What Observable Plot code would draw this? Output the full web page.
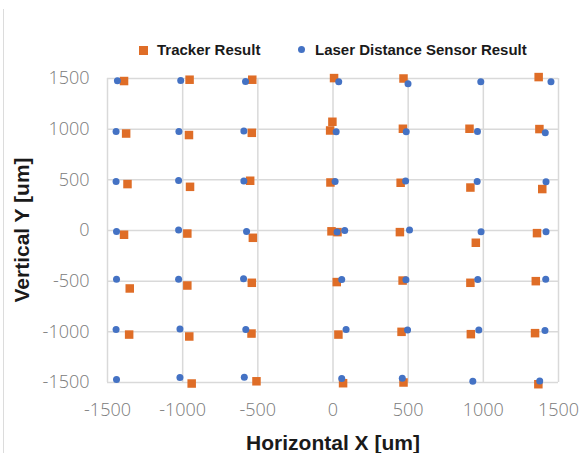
<!DOCTYPE html>
<html>
<head>
<meta charset="utf-8">
<script src="https://cdn.jsdelivr.net/npm/d3@7"></script>
<script src="https://cdn.jsdelivr.net/npm/@observablehq/plot@0.6"></script>
<style>
  html, body { margin: 0; padding: 0; background: #fff; }
  #chart { position: relative; width: 580px; height: 453px; overflow: hidden; }
  #chart svg { position: absolute; left: 0; top: 0; }
  .border { position: absolute; left: 3px; top: 9px; bottom: 0; width: 1px; background: #dcdcdc; }
  .legend { position: absolute; top: 40px; left: 0; width: 580px; font: bold 15px "Liberation Sans", Arial, sans-serif; color: #1a1a1a; }
  .legend .item { position: absolute; top: 0; white-space: nowrap; line-height: 20px; }
  .legend .sq { display: inline-block; width: 9px; height: 9px; vertical-align: middle; margin-right: 9px; position: relative; top: -1px; }
  .legend .ci { display: inline-block; width: 7px; height: 7px; border-radius: 50%; vertical-align: middle; margin-right: 10px; position: relative; top: -2px; }
  .title { position: absolute; font: bold 21px "Liberation Sans", Arial, sans-serif; color: #1a1a1a; white-space: nowrap; }
</style>
</head>
<body>
<div id="chart">
  <div class="border"></div>
</div>
<script>
// ---- Data ----
const trackerX = [-1390, -1376, -1367, -1390, -1352, -1356,
                  -954, -958, -951, -969, -969, -956, -940,
                  -537, -540, -551, -533, -540, -542, -509,
                  7, -4, -19, -17, -10, 30, 25, 36, 67,
                  469, 465, 450, 445, 463, 456, 469,
                  908, 914, 950, 914, 917,
                  1368, 1373, 1392, 1357, 1349, 1344, 1366];
const trackerY = [1475, 957, 458, -42, -572, -1027,
                  1488, 942, 431, -30, -543, -1046, -1510,
                  1488, 964, 491, -72, -516, -1017, -1488,
                  1504, 1073, 987, 474, -8, -16, -509, -1027, -1507,
                  1500, 1004, 471, -16, -494, -1000, -1500,
                  1004, 424, -121, -516, -1023,
                  1514, 1001, 409, -26, -500, -1013, -1517];
const laserX = [-1434, -1443, -1443, -1440, -1440, -1443, -1440,
                -1013, -1025, -1027, -1027, -1027, -1018, -1018,
                -582, -593, -593, -575, -595, -580, -590,
                38, 21, 14, 27, 78, 58, 87, 58,
                499, 487, 483, 509, 485, 496, 461,
                983, 961, 959, 985, 963, 970, 930,
                1450, 1412, 1417, 1417, 1415, 1410, 1375];
const laserY = [1478, 977, 484, -10, -480, -977, -1471,
                1481, 977, 494, 4, -480, -973, -1451,
                1471, 981, 488, -10, -477, -977, -1447,
                1468, 974, 484, -16, 0, -484, -977, -1461,
                1448, 974, 488, 4, -487, -983, -1457,
                1468, 977, 484, -13, -484, -983, -1487,
                1468, 964, 481, -13, -480, -987, -1484];
const xTicks = [-1500, -1000, -500, 0, 500, 1000, 1500];
const yTicks = [-1500, -1000, -500, 0, 500, 1000, 1500];
const seriesNames = ["Tracker Result", "Laser Distance Sensor Result"];
const seriesColors = ["#DF6D27", "#4472C4"];
const xTitle = "Horizontal X [um]";
const yTitle = "Vertical Y [um]";

const tracker = trackerX.map((x, i) => ({x, y: trackerY[i]}));
const laser = laserX.map((x, i) => ({x, y: laserY[i]}));
const fmt = d => String(d);

const plot = Plot.plot({
  width: 580,
  height: 453,
  marginLeft: 107,
  marginRight: 22,
  marginTop: 78,
  marginBottom: 71,
  style: {fontFamily: "'Open Sans', 'Noto Sans', sans-serif", fontSize: "18px", background: "transparent", overflow: "visible"},
  x: {domain: [-1500, 1500]},
  y: {domain: [-1500, 1500]},
  marks: [
    Plot.gridX(xTicks, {stroke: "#d9d9d9", strokeOpacity: 1, strokeWidth: 1.5}),
    Plot.gridY(yTicks, {stroke: "#d9d9d9", strokeOpacity: 1, strokeWidth: 1.5}),
    Plot.axisX(xTicks, {tickSize: 0, tickPadding: 21, label: null, tickFormat: fmt, fill: "#7a7a7a", fontWeight: 300}),
    Plot.axisY(yTicks, {tickSize: 0, tickPadding: 18, label: null, tickFormat: fmt, fill: "#7a7a7a", fontWeight: 300}),
    Plot.dot(tracker, {x: "x", y: "y", symbol: "square", r: 4.8, fill: seriesColors[0]}),
    Plot.dot(laser, {x: "x", y: "y", symbol: "circle", r: 3.5, fill: seriesColors[1]})
  ]
});
const chart = document.getElementById("chart");
chart.appendChild(plot);

// Legend
const legend = document.createElement("div");
legend.className = "legend";
legend.innerHTML =
  `<span class="item" style="left:139px"><span class="sq" style="background:${seriesColors[0]}"></span>${seriesNames[0]}</span>` +
  `<span class="item" style="left:298px"><span class="ci" style="background:${seriesColors[1]}"></span>${seriesNames[1]}</span>`;
chart.appendChild(legend);

// Axis titles
const xt = document.createElement("div");
xt.className = "title";
xt.textContent = xTitle;
xt.style.left = "333px"; xt.style.top = "443px";
xt.style.transform = "translate(-50%, -50%)";
chart.appendChild(xt);

const yt = document.createElement("div");
yt.className = "title";
yt.textContent = yTitle;
yt.style.left = "22px"; yt.style.top = "230px";
yt.style.transform = "translate(-50%, -50%) rotate(-90deg)";
chart.appendChild(yt);
</script>
</body>
</html>
